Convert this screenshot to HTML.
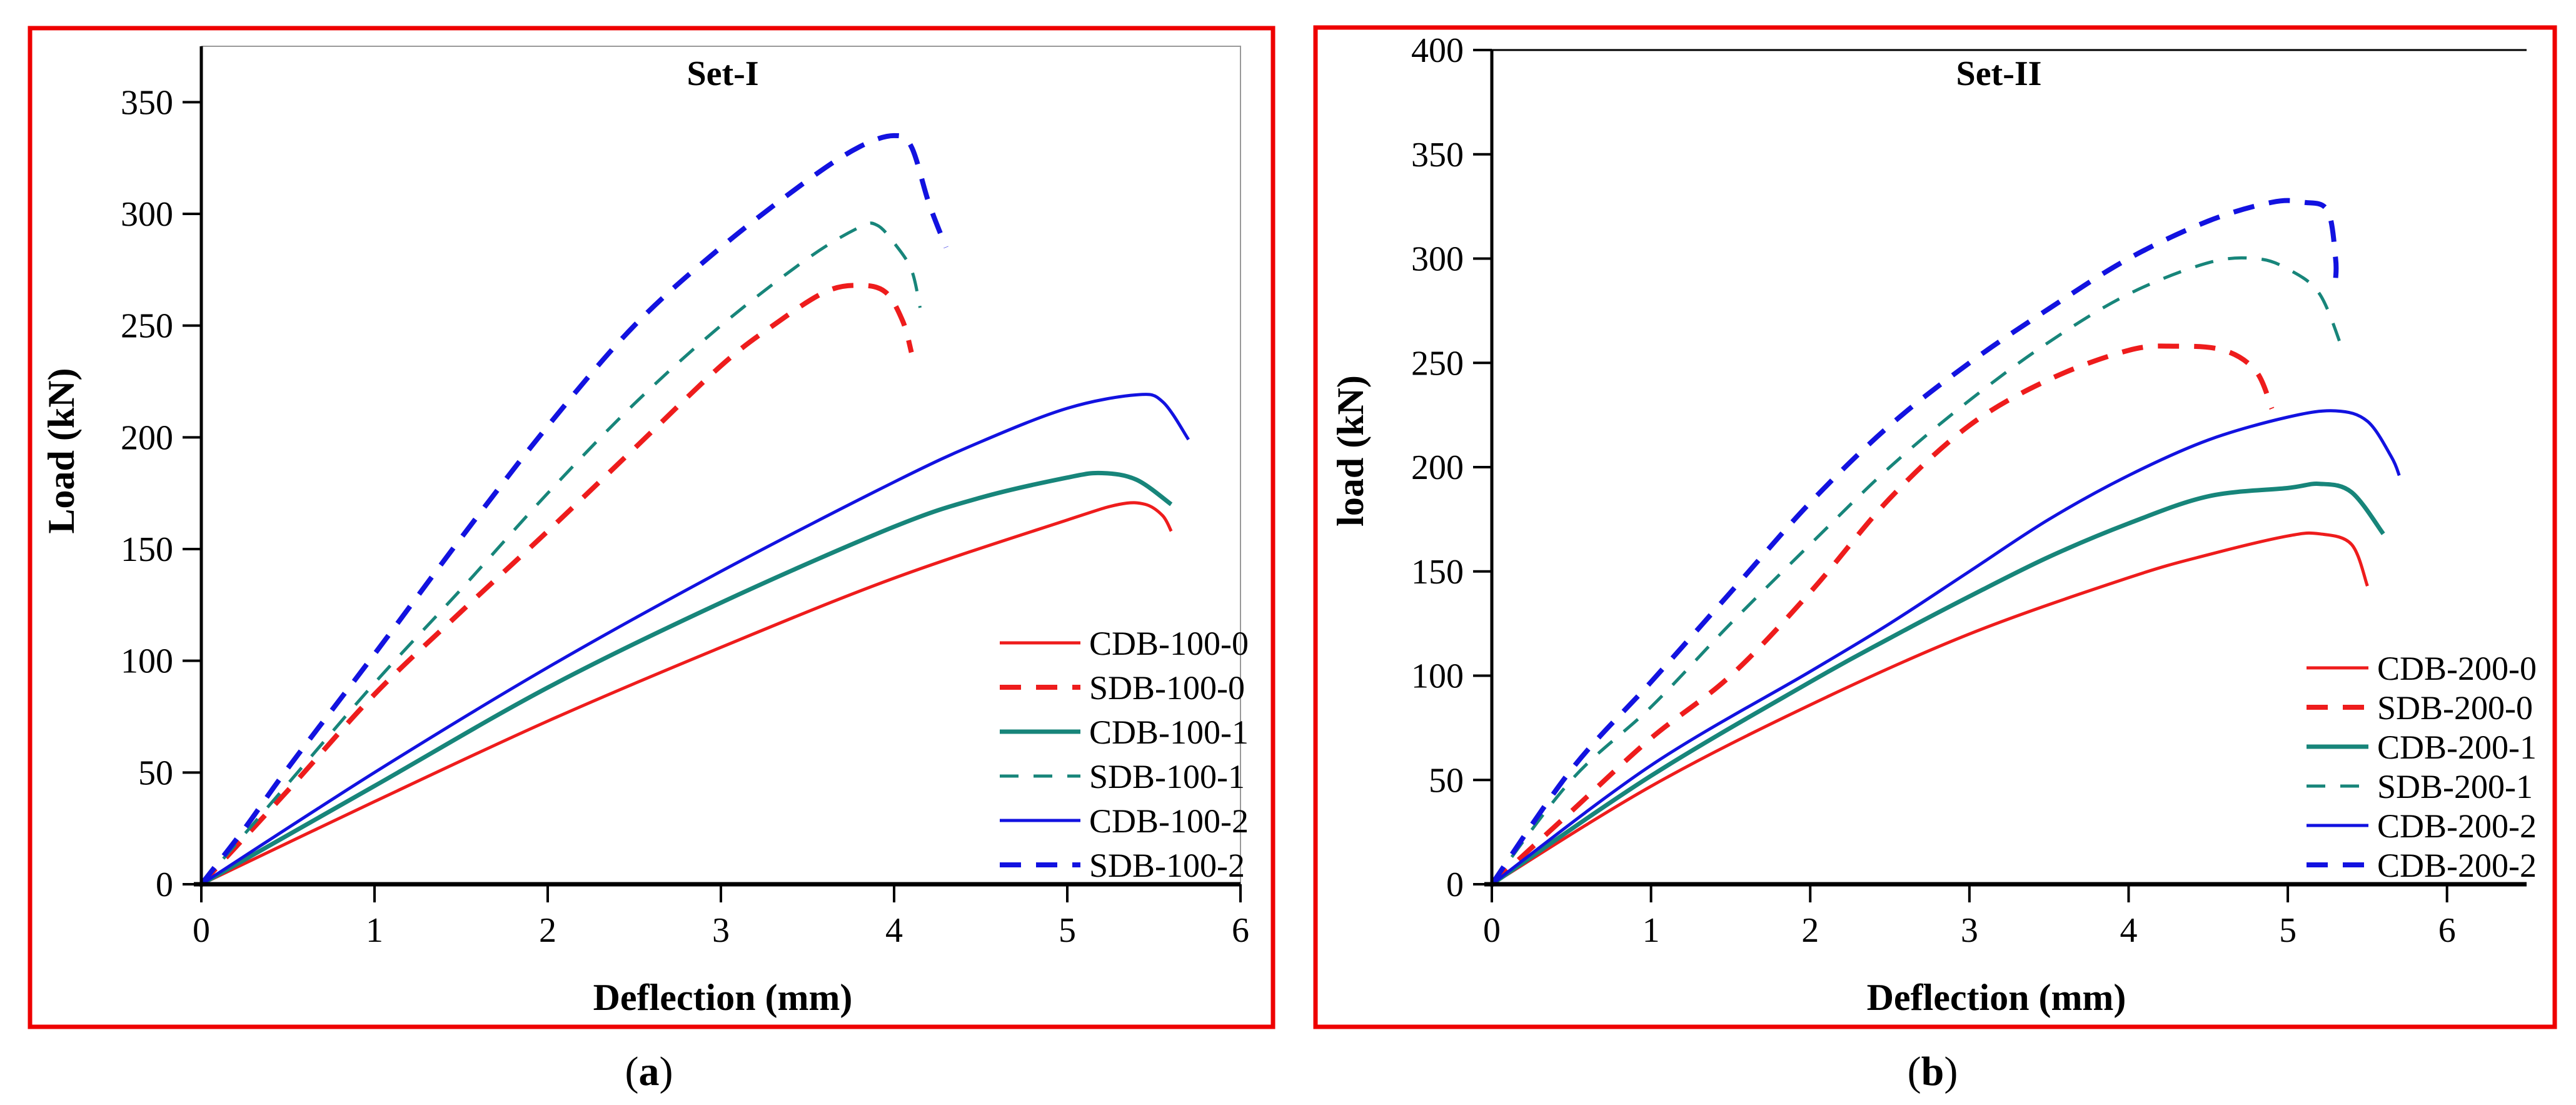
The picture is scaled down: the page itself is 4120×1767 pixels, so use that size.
<!DOCTYPE html>
<html><head><meta charset="utf-8"><style>
html,body{margin:0;padding:0;background:#fff;}
svg{display:block;}
text{font-family:"Liberation Serif",serif;}
</style></head><body>
<svg id="fig" width="4120" height="1767" viewBox="0 0 4120 1767" xmlns="http://www.w3.org/2000/svg" font-family="Liberation Serif, serif">
<rect x="0" y="0" width="4120" height="1767" fill="#fff"/>
<rect x="48" y="45" width="1988" height="1597" fill="none" stroke="#e00" stroke-width="7"/>
<rect x="2104" y="44" width="1982" height="1598" fill="none" stroke="#e00" stroke-width="7"/>
<g id="chartA"></g>
<g id="chartB"></g>
<text x="1038" y="1735" font-size="66" text-anchor="middle">(<tspan font-weight="bold">a</tspan>)</text>
<text x="3091" y="1735" font-size="66" text-anchor="middle">(<tspan font-weight="bold">b</tspan>)</text>
</svg>
<script>
// ---- Chart A data ----
const aXTicks = [0,1,2,3,4,5,6];
const aYTicks = [0,50,100,150,200,250,300,350];
const aNames = ["CDB-100-0","SDB-100-0","CDB-100-1","SDB-100-1","CDB-100-2","SDB-100-2"];
const aCdb0X = [0,1,2,3,4,5,5.3,5.45,5.55,5.6];
const aCdb0Y = [0,37,73,106,137,163,170,170,165,158];
const aSdb0X = [0,0.5,1,1.5,2,2.5,3,3.3,3.6,3.8,3.95,4.05,4.1];
const aSdb0Y = [0,42,85,122,158,195,232,250,265,268,265,252,238];
const aCdb1X = [0,1,2,3,4,4.5,5,5.2,5.4,5.6];
const aCdb1Y = [0,44,88,126,160,173,182,184,181,170];
const aSdb1X = [0,0.5,1,1.5,2,2.5,3,3.5,3.8,3.9,4,4.1,4.15];
const aSdb1Y = [0,45,90,132,175,215,250,280,294,295,287,275,258];
const aCdb2X = [0,1,2,3,4,4.5,5,5.4,5.55,5.7];
const aCdb2Y = [0,50,97,140,180,198,213,219,216,199];
const aSdb2X = [0,0.25,0.5,1,1.5,2,2.5,3,3.5,3.8,4,4.1,4.2,4.3];
const aSdb2Y = [0,25,52,103,155,205,250,285,315,330,335,330,305,285];
// ---- Chart B data ----
const bXTicks = [0,1,2,3,4,5,6];
const bYTicks = [0,50,100,150,200,250,300,350,400];
const bNames = ["CDB-200-0","SDB-200-0","CDB-200-1","SDB-200-1","CDB-200-2","CDB-200-2"];
const bCdb0X = [0,1,2,3,4,4.5,5,5.2,5.4,5.5];
const bCdb0Y = [0,47,86,120,147,158,167,168,163,143];
const bSdb0X = [0,0.5,1,1.5,2,2.5,3,3.5,4,4.3,4.6,4.8,4.9];
const bSdb0Y = [0,35,70,100,140,185,220,242,256,258,256,246,228];
const bCdb1X = [0,1,2,2.5,3,3.5,4,4.5,5,5.2,5.4,5.6];
const bCdb1Y = [0,52,97,118,138,157,173,186,190,192,188,168];
const bSdb1X = [0,0.5,1,1.5,2,2.5,3,3.5,4,4.5,4.8,5,5.2,5.35];
const bSdb1Y = [0,50,85,125,163,200,232,260,283,298,300,295,283,255];
const bCdb2X = [0,1,2,2.5,3,3.5,4,4.5,5,5.3,5.5,5.65,5.7];
const bCdb2Y = [0,57,102,125,150,175,196,213,224,227,222,205,196];
const bSdb2X = [0,0.5,1,1.5,2,2.5,3,3.5,4,4.5,4.9,5.1,5.25,5.3,5.3];
const bSdb2Y = [0,55,97,140,183,220,250,276,300,318,327,327,323,300,290];

const NS = "http://www.w3.org/2000/svg";
const RED="#ee1c1c", TEAL="#17857a", BLUE="#1212e0";
const styles = [
 {c:RED,w:5,d:null},{c:RED,w:8,d:"34 24"},
 {c:TEAL,w:7,d:null},{c:TEAL,w:5,d:"30 24"},
 {c:BLUE,w:5,d:null},{c:BLUE,w:8,d:"34 24"}];

function mk(parent, tag, attrs){
  const e=document.createElementNS(NS,tag);
  for(const k in attrs) e.setAttribute(k,attrs[k]);
  if(tag==="text") e.setAttribute("font-family","Liberation Serif, serif");
  parent.appendChild(e); return e;
}
function smoothPath(pts){
  let d="M"+pts[0][0]+","+pts[0][1];
  for(let i=0;i<pts.length-1;i++){
    const p0=pts[Math.max(0,i-1)],p1=pts[i],p2=pts[i+1],p3=pts[Math.min(pts.length-1,i+2)];
    const c1x=p1[0]+(p2[0]-p0[0])/6,c1y=p1[1]+(p2[1]-p0[1])/6;
    const c2x=p2[0]-(p3[0]-p1[0])/6,c2y=p2[1]-(p3[1]-p1[1])/6;
    d+=" C"+c1x.toFixed(1)+","+c1y.toFixed(1)+" "+c2x.toFixed(1)+","+c2y.toFixed(1)+" "+p2[0].toFixed(1)+","+p2[1].toFixed(1);
  }
  return d;
}

function drawChart(g, cfg){
  const sx=v=>cfg.x0+(v-cfg.xmin)/(cfg.xmax-cfg.xmin)*(cfg.x1-cfg.x0);
  const sy=v=>cfg.y0-(v-cfg.ymin)/(cfg.ymax-cfg.ymin)*(cfg.y0-cfg.y1);
  if(cfg.frame){
    const f=mk(g,"path",{d:`M${cfg.x0},${cfg.y1} H${cfg.x1} V${cfg.y0}`,fill:"none",stroke:"#999",'stroke-width':2});
    
    
  } else {
    const f=mk(g,"line",{x1:cfg.x0,y1:cfg.y1,x2:cfg.x1,y2:cfg.y1,stroke:"#000",'stroke-width':3});
    
    
  }
  cfg.series.forEach((s,i)=>{
    const pts=s.x.map((v,j)=>[sx(v),sy(s.y[j])]);
    const st=styles[i];
    const p=mk(g,"path",{d:smoothPath(pts),fill:"none",stroke:st.c,'stroke-width':st.w,'stroke-linejoin':"round"});
    if(st.d) p.setAttribute("stroke-dasharray",st.d);
    
    
  });
  const xa=mk(g,"line",{x1:cfg.x0-12,y1:cfg.y0,x2:cfg.x1,y2:cfg.y0,stroke:"#000",'stroke-width':7});
  
  
  const ya=mk(g,"line",{x1:cfg.x0,y1:cfg.y0+4,x2:cfg.x0,y2:cfg.y1,stroke:"#000",'stroke-width':5});
  
  
  cfg.xticks.forEach(v=>{
    const t=mk(g,"line",{x1:sx(v),y1:cfg.y0,x2:sx(v),y2:cfg.y0+29,stroke:"#000",'stroke-width':4});
    
    
    const l=mk(g,"text",{x:sx(v),y:cfg.y0+92,'font-size':56,'text-anchor':"middle"});
    l.textContent=v;
    
    
  });
  cfg.yticks.forEach(v=>{
    const t=mk(g,"line",{x1:cfg.x0-30,y1:sy(v),x2:cfg.x0,y2:sy(v),stroke:"#000",'stroke-width':4});
    
    
    const l=mk(g,"text",{x:cfg.x0-45,y:sy(v)+19,'font-size':56,'text-anchor':"end"});
    l.textContent=v;
    
    
  });
  const tt=mk(g,"text",{x:cfg.titleX,y:136,'font-size':56,'font-weight':"bold",'text-anchor':"middle"});
  tt.textContent=cfg.title;
  
  
  const xt=mk(g,"text",{x:(cfg.x0+cfg.xTitleRef)/2,y:1615,'font-size':60,'font-weight':"bold",'text-anchor':"middle"});
  xt.textContent="Deflection (mm)";
  
  
  const yt=mk(g,"text",{x:0,y:0,'font-size':60,'font-weight':"bold",'text-anchor':"middle",transform:`translate(${cfg.yTitleX},${cfg.yTitleY}) rotate(-90)`});
  yt.textContent=cfg.ytitle;
  
  
  cfg.names.forEach((n,i)=>{
    const yy=cfg.legY0+i*cfg.legStep, st=styles[i];
    const ln=mk(g,"line",{x1:cfg.legX0,y1:yy,x2:cfg.legX1,y2:yy,stroke:st.c,'stroke-width':st.w});
    if(st.d) ln.setAttribute("stroke-dasharray",st.d);
    
    
    const tx=mk(g,"text",{x:cfg.legX1+14,y:yy+19,'font-size':54});
    tx.textContent=n;
    
    
  });
}

drawChart(document.getElementById("chartA"),{
  x0:322,x1:1984,xmin:0,xmax:6,y0:1414,y1:74,ymin:0,ymax:375,frame:true,
  xticks:aXTicks,yticks:aYTicks,names:aNames,title:"Set-I",titleX:1156,
  ytitle:"Load (kN)",yTitleX:118,yTitleY:721,xTitleRef:1990,
  legX0:1599,legX1:1728,legY0:1028,legStep:71,
  series:[{x:aCdb0X,y:aCdb0Y},{x:aSdb0X,y:aSdb0Y},{x:aCdb1X,y:aCdb1Y},{x:aSdb1X,y:aSdb1Y},{x:aCdb2X,y:aCdb2Y},{x:aSdb2X,y:aSdb2Y}]
});
drawChart(document.getElementById("chartB"),{
  x0:2386,x1:4041,xmin:0,xmax:6.5,y0:1414,y1:80,ymin:0,ymax:400,frame:false,
  xticks:bXTicks,yticks:bYTicks,names:bNames,title:"Set-II",titleX:3197,
  ytitle:"load (kN)",yTitleX:2180,yTitleY:721,xTitleRef:4000,
  legX0:3689,legX1:3788,legY0:1068,legStep:63,
  series:[{x:bCdb0X,y:bCdb0Y},{x:bSdb0X,y:bSdb0Y},{x:bCdb1X,y:bCdb1Y},{x:bSdb1X,y:bSdb1Y},{x:bCdb2X,y:bCdb2Y},{x:bSdb2X,y:bSdb2Y}]
});
</script>
</body></html>
